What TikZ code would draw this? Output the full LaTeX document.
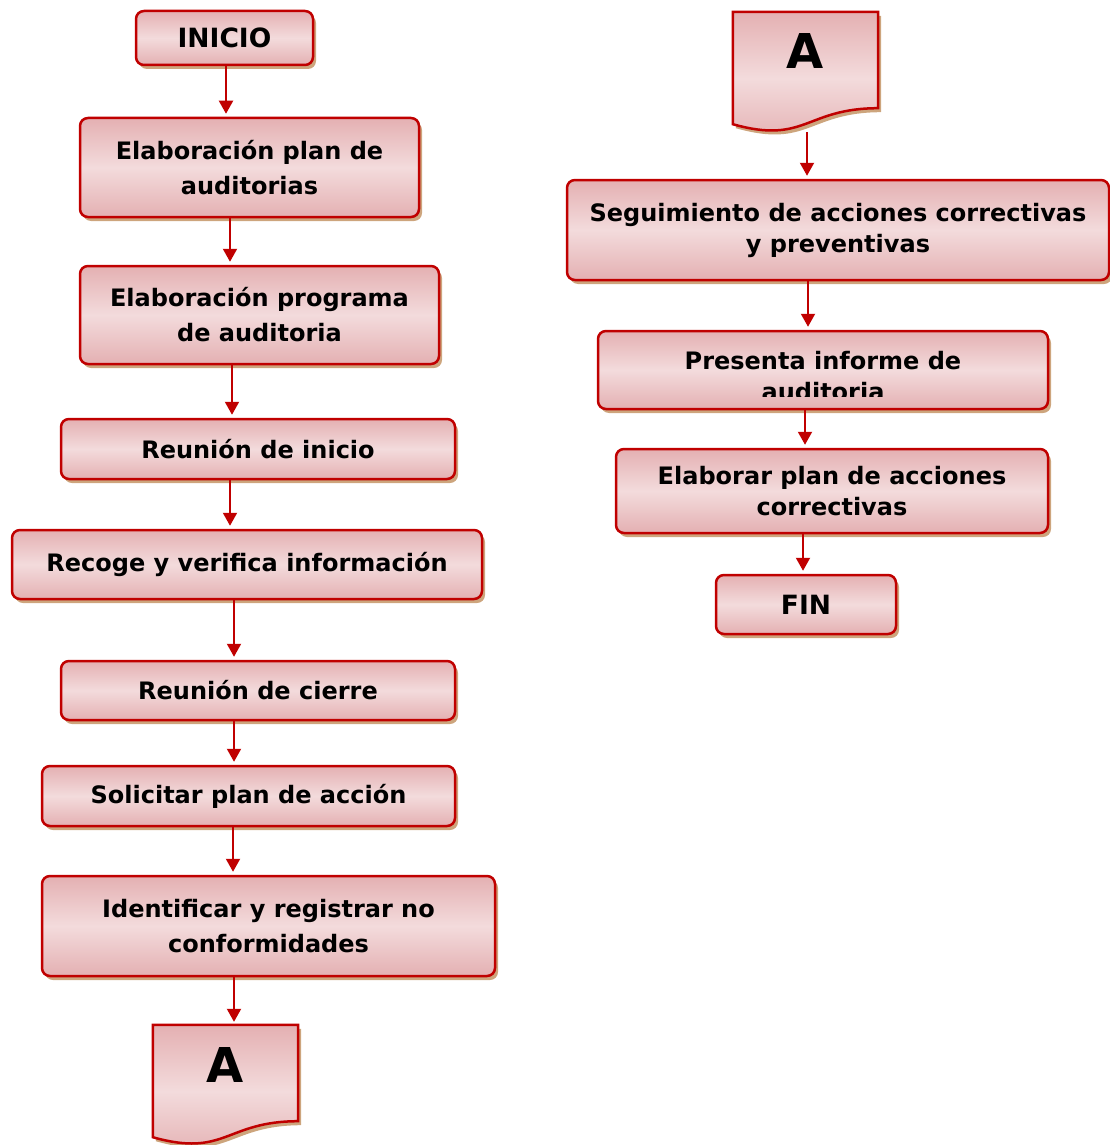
\documentclass[tikz,border=0pt]{standalone}
\usepackage{fontspec}
\setmainfont{DejaVu Sans}
\usetikzlibrary{arrows.meta,shadows,backgrounds,calc}
\definecolor{boxred}{RGB}{192,0,0}
\definecolor{pinkdark}{RGB}{228,176,178}
\definecolor{pinklight}{RGB}{243,219,220}
\definecolor{shadowtan}{RGB}{205,165,125}
\begin{document}
\begin{tikzpicture}[x=1pt,y=-1pt,line join=round,
	box/.style={draw=boxred,line width=2.5pt,rounded corners=8pt,
		top color=pinkdark,bottom color=pinkdark,middle color=pinklight,
		drop shadow={shadow xshift=3pt,shadow yshift=-4pt,fill=shadowtan,opacity=1},
		align=center,font=\fontsize{24}{35}\selectfont\bfseries},
	tight/.style={font=\fontsize{24}{31}\selectfont\bfseries},
	big/.style={font=\fontsize{26.5}{30}\selectfont\bfseries},
	docbox/.style={draw=boxred,line width=2.5pt,
		top color=pinkdark,bottom color=pinkdark,middle color=pinklight,
		drop shadow={shadow xshift=3pt,shadow yshift=-4pt,fill=shadowtan,opacity=1}},
	doctext/.style={minimum width=145pt,minimum height=96pt,inner sep=0pt,
		text depth=17pt,font=\fontsize{48}{48}\selectfont\bfseries},
	arr/.style={draw=boxred,line width=2pt,shorten >=3pt,
		-{Triangle[width=14pt,length=13pt]}}]
	\useasboundingbox (0,0) rectangle (1110,1145);
	% left column
	\node[box,big,minimum width=177pt,minimum height=54pt] (ini) at (224.5,38) {INICIO};
	\node[box,minimum width=339pt,minimum height=99pt] (pl) at (249.5,167.5) {Elaboración plan de\\auditorias};
	\node[box,minimum width=359pt,minimum height=98pt] (pr) at (259.5,315) {Elaboración programa\\de auditoria};
	\node[box,minimum width=394pt,minimum height=60pt] (ri) at (258,449) {Reunión de inicio};
	\node[box,minimum width=470pt,minimum height=69pt] (rv) at (247,564.5) {Recoge y verifica información};
	\node[box,minimum width=394pt,minimum height=59pt] (rc) at (258,690.5) {Reunión de cierre};
	\node[box,minimum width=413pt,minimum height=60pt] (sp) at (248.5,796) {Solicitar plan de acción};
	\node[box,minimum width=453pt,minimum height=100pt] (nc) at (268.5,926) {Identificar y registrar no\\conformidades};
	\node[doctext] (a1) at (225.5,1073) {A};
	% right column
	\node[doctext] (a2) at (805.5,60) {A};
	\node[box,tight,minimum width=542pt,minimum height=100pt] (sg) at (838,230) {Seguimiento de acciones correctivas\\y preventivas};
	\node[box,minimum width=450pt,minimum height=78pt] (pi) at (823,370) {};
	\begin{scope}
		\clip (pi.north west) rectangle ([yshift=14pt]pi.south east);
		\node[align=center,tight] at ([yshift=-6pt]pi.center) {Presenta informe de\\auditoria};
	\end{scope}
	\node[box,tight,minimum width=432pt,minimum height=84pt] (ep) at (832,491) {Elaborar plan de acciones\\correctivas};
	\node[box,big,minimum width=180pt,minimum height=59pt] (fin) at (806,604.5) {FIN};
	% document shapes
	\begin{scope}[on background layer]
		\path[docbox] (a1.north west) -- (a1.north east) -- (a1.south east)
		.. controls (a1.south) and ([yshift=-36.6pt]a1.south) .. ([yshift=-16pt]a1.south west) -- cycle;
		\path[docbox] (a2.north west) -- (a2.north east) -- (a2.south east)
		.. controls (a2.south) and ([yshift=-36.6pt]a2.south) .. ([yshift=-16pt]a2.south west) -- cycle;
	\end{scope}
	% connectors
	\draw[arr] ([xshift=1.5pt]ini.south) -- ([xshift=1.5pt]ini.south |- pl.north);
	\draw[arr] ([xshift=-19.5pt]pl.south) -- ([xshift=-19.5pt]pl.south |- pr.north);
	\draw[arr] ([xshift=-27.5pt]pr.south) -- ([xshift=-27.5pt]pr.south |- ri.north);
	\draw[arr] ([xshift=-28pt]ri.south) -- ([xshift=-28pt]ri.south |- rv.north);
	\draw[arr] ([xshift=-13pt]rv.south) -- ([xshift=-13pt]rv.south |- rc.north);
	\draw[arr] ([xshift=-24pt]rc.south) -- ([xshift=-24pt]rc.south |- sp.north);
	\draw[arr] ([xshift=-15.5pt]sp.south) -- ([xshift=-15.5pt]sp.south |- nc.north);
	\draw[arr] ([xshift=-34.5pt]nc.south) -- ([xshift=-34.5pt]nc.south |- a1.north);
	\draw[arr] ([xshift=1.5pt,yshift=-24pt]a2.south) -- ([xshift=1.5pt]a2.south |- sg.north);
	\draw[arr] ([xshift=-30pt]sg.south) -- ([xshift=-30pt]sg.south |- pi.north);
	\draw[arr] ([xshift=-18pt]pi.south) -- ([xshift=-18pt]pi.south |- ep.north);
	\draw[arr] ([xshift=-29pt]ep.south) -- ([xshift=-29pt]ep.south |- fin.north);
\end{tikzpicture}
\end{document}
